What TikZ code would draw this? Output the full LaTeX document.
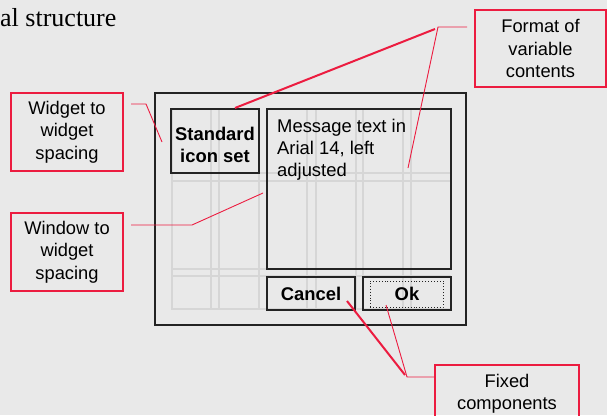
\documentclass[tikz,border=0pt]{standalone}
\usepackage{fontspec}
\setmainfont{Liberation Serif}
\newfontfamily\arial{Liberation Sans}
\definecolor{bg}{RGB}{233,233,233}
\definecolor{callred}{RGB}{236,28,64}
\definecolor{gridc}{RGB}{214,214,214}
\definecolor{framec}{RGB}{35,35,35}
\tikzset{
  callout/.style={draw=callred, line width=1.1pt, align=center,
    font=\arial\fontsize{18.3}{22.5}\selectfont, inner sep=0pt},
  widget/.style={draw=framec, line width=1.6pt, inner sep=0pt},
  btntext/.style={font=\arial\bfseries\fontsize{18.4}{22}\selectfont, inner sep=0pt, align=center},
  gridline/.style={draw=gridc, line width=1.2pt},
  thinlead/.style={draw=callred, line width=0.9pt},
  thicklead/.style={draw=callred, line width=2pt},
}
\begin{document}
\begin{tikzpicture}[x=1pt,y=-1pt]
\fill[bg] (0,0) rectangle (607,415);
\useasboundingbox (0,0) rectangle (607,415);
\begin{scope}
\clip (0,0) rectangle (607,415);
% grid
\foreach \gx in {172,211,219,259,307,316,356,363,403,411}
  \draw[gridline] (\gx,109) -- (\gx,310);
\foreach \gy in {173,181,269,276,309}
  \draw[gridline] (172,\gy) -- (451,\gy);

% title
\node[anchor=base west, font=\fontsize{26}{30}\selectfont, inner sep=0pt] (title) at (0,27) {al structure};

% dialog
\node[widget, minimum width=311pt, minimum height=232pt] (dialog) at (310.5,209) {};
\node[widget, minimum width=88pt, minimum height=64pt] (icon) at (215,141) {};
\node[btntext] (icontext) at (215,145) {Standard\\icon set};
\node[widget, minimum width=184pt, minimum height=160pt] (msgbox) at (359,189) {};
\node[anchor=north west, align=left, inner sep=0pt, font=\arial\fontsize{18.4}{22}\selectfont] (msg) at (277,119) {Message text in\\Arial 14, left\\adjusted};
\node[widget, btntext, minimum width=88pt, minimum height=33pt] (cancel) at (311,293.5) {Cancel};
\node[widget, minimum width=88pt, minimum height=33pt] (ok) at (407,293.5) {};
\node[draw=framec, line width=0.9pt, dotted, minimum width=73pt, minimum height=26pt, inner sep=0pt] (okfocus) at (406.5,294) {};
\node[btntext] (oktext) at (407,293.5) {Ok};

% callouts
\node[callout, minimum width=112pt, minimum height=78pt] (w2w) at (67,132) {Widget to\\widget\\spacing};
\node[callout, minimum width=112pt, minimum height=78pt] (win2w) at (67,252) {Window to\\widget\\spacing};
\node[callout, minimum width=131pt, minimum height=77pt] (fmt) at (540.5,48.5) {Format of\\variable\\contents};
\node[callout, minimum width=144pt, minimum height=58pt] (fixed) at (507,394) {Fixed\\components};

% leader points
\coordinate (w2wA) at (131,104);
\coordinate (w2wB) at (146,104);
\coordinate (w2wC) at (162,142);
\coordinate (win2wA) at (131,225);
\coordinate (win2wB) at (192,225);
\coordinate (win2wC) at (263,193);
\coordinate (fmtA) at (467,27);
\coordinate (fmtB) at (438,27);
\coordinate (fmtC) at (408,168);
\coordinate (iconA) at (235,108);
\coordinate (iconB) at (435,29);
\coordinate (fixA) at (435,377);
\coordinate (fixB) at (407,377);
\coordinate (okA) at (386,305);
\coordinate (cancelA) at (405,375);
\coordinate (cancelB) at (347,301);

\draw[thinlead] (w2wA) -- (w2wB) -- (w2wC);
\draw[thinlead] (win2wA) -- (win2wB) -- (win2wC);
\draw[thinlead] (fmtA) -- (fmtB) -- (fmtC);
\draw[thicklead] (iconA) -- (iconB);
\draw[thinlead] (fixA) -- (fixB) -- (okA);
\draw[thicklead] (cancelA) -- (cancelB);
\end{scope}
\end{tikzpicture}
\end{document}
